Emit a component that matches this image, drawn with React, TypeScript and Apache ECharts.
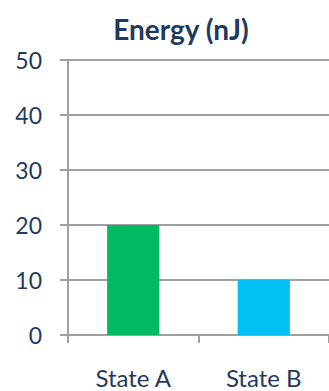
import React, { useEffect, useRef } from "react";
import * as echarts from "echarts";

const categories = ["State A", "State B"];
const energyValues = [20, 10];
const barColors = ["#00B960", "#00BFF3"];
const yMin = 0;
const yMax = 50;
const yStep = 10;

const TEXT = "#1F3A5F";
const LINE = "#A0A0A0";
const FONT = "Lato, 'Noto Sans', sans-serif";

export default function App() {
  const ref = useRef<HTMLDivElement>(null);

  useEffect(() => {
    document.body.style.margin = "0";
    if (!ref.current) return;
    const chart = echarts.init(ref.current, null, { renderer: "svg" });
    chart.setOption({
      animation: false,
      backgroundColor: "#ffffff",
      title: {
        text: "Energy (nJ)",
        left: 176,
        top: 10,
        textAlign: "center",
        textStyle: { color: TEXT, fontFamily: FONT, fontWeight: "bold", fontSize: 28 },
      },
      grid: { left: 68, top: 60, width: 268, height: 275, containLabel: false },
      xAxis: {
        type: "category",
        data: categories,
        axisLine: { show: true, lineStyle: { color: LINE, width: 2 } },
        axisTick: { show: true, alignWithLabel: false, length: 8, lineStyle: { color: LINE, width: 2 } },
        axisLabel: { color: TEXT, fontFamily: FONT, fontSize: 24, margin: 30 },
        splitLine: { show: false },
      },
      yAxis: {
        type: "value",
        min: yMin,
        max: yMax,
        interval: yStep,
        axisLine: { show: true, lineStyle: { color: LINE, width: 2 } },
        axisTick: { show: true, length: 8, lineStyle: { color: LINE, width: 2 } },
        axisLabel: { color: TEXT, fontFamily: FONT, fontSize: 23, margin: 26 },
        splitLine: { show: true, lineStyle: { color: LINE, width: 2 } },
      },
      series: [
        {
          type: "bar",
          barWidth: "40%",
          data: energyValues.map((v, i) => ({ value: v, itemStyle: { color: barColors[i] } })),
        },
      ],
    });
    return () => chart.dispose();
  }, []);

  return <div ref={ref} style={{ width: 329, height: 391 }} />;
}
